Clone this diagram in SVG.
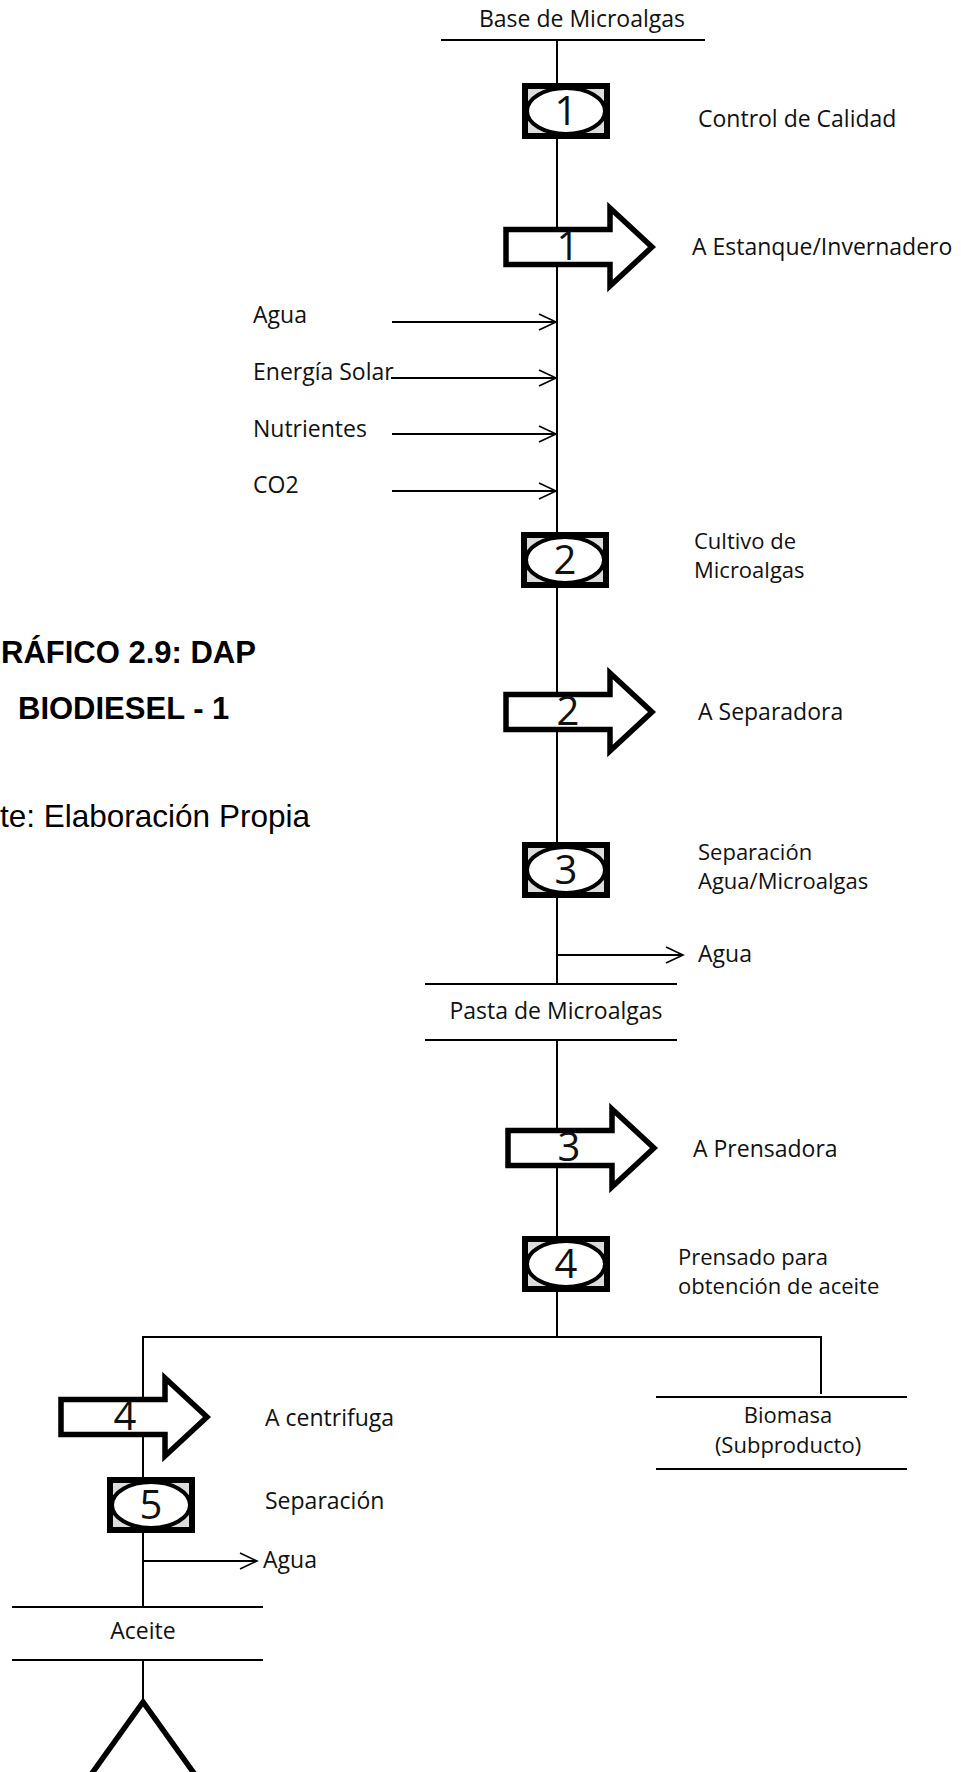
<svg xmlns="http://www.w3.org/2000/svg" xmlns:xlink="http://www.w3.org/1999/xlink" width="961" height="1772" viewBox="0 0 961 1772">
<style>
.lbl{font-family:"Open Sans","Liberation Sans",sans-serif;font-size:23px;fill:#111}
.two{font-size:22px}
.mid{text-anchor:middle}
.num{font-family:"Open Sans","Liberation Sans",sans-serif;font-size:40px;fill:#111;text-anchor:middle}
.ttl{font-family:"Liberation Sans",Arial,sans-serif;font-size:31px;fill:#000}
.b{font-weight:bold}
.ln{stroke:#000;stroke-width:2;fill:none}
.box{fill:#dcdcdc;stroke:#000;stroke-width:6}
.ell{fill:#fff;stroke:#000;stroke-width:4}
.arw{fill:#fff;stroke:#000;stroke-width:5.5;stroke-linejoin:miter}
.tri{fill:#fff;stroke:#000;stroke-width:5.5}
</style>
<defs>
<marker id="open" markerWidth="22" markerHeight="22" refX="18" refY="9" orient="auto" markerUnits="userSpaceOnUse">
<path d="M1,1 L18,9 L1,17" fill="none" stroke="#000" stroke-width="1.6"/>
</marker>
<path id="bigArrow" class="arw" d="M3,-17.5 H107 V-39 L149,0 L107,39 V17.5 H3 Z"/>
<g id="opBox">
<rect class="box" x="3" y="3" width="82" height="50"/>
<ellipse class="ell" cx="44" cy="28" rx="39" ry="23"/>
</g>
</defs>

<g id="connectors">
<line class="ln" x1="441" y1="40" x2="705" y2="40"/>
<line class="ln" x1="557" y1="40" x2="557" y2="984"/>
<line class="ln" x1="425" y1="984" x2="677" y2="984"/>
<line class="ln" x1="425" y1="1040" x2="677" y2="1040"/>
<line class="ln" x1="557" y1="1040" x2="557" y2="1337"/>
<polyline class="ln" points="143,1607 143,1337 821,1337 821,1394"/>
<line class="ln" x1="656" y1="1397" x2="907" y2="1397"/>
<line class="ln" x1="656" y1="1469" x2="907" y2="1469"/>
<line class="ln" x1="12" y1="1607" x2="263" y2="1607"/>
<line class="ln" x1="12" y1="1660" x2="263" y2="1660"/>
<line class="ln" x1="143" y1="1660" x2="143" y2="1702"/>
<line class="ln" x1="392" y1="322" x2="556" y2="322" marker-end="url(#open)"/>
<line class="ln" x1="391" y1="378" x2="556" y2="378" marker-end="url(#open)"/>
<line class="ln" x1="392" y1="434" x2="556" y2="434" marker-end="url(#open)"/>
<line class="ln" x1="392" y1="491" x2="556" y2="491" marker-end="url(#open)"/>
<line class="ln" x1="557" y1="955" x2="683" y2="955" marker-end="url(#open)"/>
<line class="ln" x1="143" y1="1561" x2="257" y2="1561" marker-end="url(#open)"/>
</g>

<g id="title">
<text class="ttl b" x="1" y="663">RÁFICO 2.9: DAP</text>
<text class="ttl b" x="18" y="719">BIODIESEL - 1</text>
<text class="ttl" x="0" y="827" style="font-size:31.5px">te: Elaboración Propia</text>
</g>

<g id="base-microalgas"><text class="lbl mid" x="582" y="27">Base de Microalgas</text></g>

<g id="op1">
<use xlink:href="#opBox" x="522" y="83"/>
<text class="num" x="566" y="125">1</text>
<text class="lbl" x="698" y="127">Control de Calidad</text>
</g>

<g id="tr1">
<use xlink:href="#bigArrow" transform="translate(503,247)"/>
<text class="num" x="568" y="260">1</text>
<text class="lbl" x="692" y="255">A Estanque/Invernadero</text>
</g>

<g id="inputs">
<text class="lbl" x="253" y="323">Agua</text>
<text class="lbl" x="253" y="380">Energía Solar</text>
<text class="lbl" x="253" y="437">Nutrientes</text>
<text class="lbl" x="253" y="493">CO2</text>
</g>

<g id="op2">
<use xlink:href="#opBox" x="521" y="532"/>
<text class="num" x="565" y="574">2</text>
<text class="lbl two" x="694" y="549">Cultivo de</text>
<text class="lbl two" x="694" y="578">Microalgas</text>
</g>

<g id="tr2">
<use xlink:href="#bigArrow" transform="translate(503,712)"/>
<text class="num" x="568" y="725">2</text>
<text class="lbl" x="698" y="720">A Separadora</text>
</g>

<g id="op3">
<use xlink:href="#opBox" x="522" y="842"/>
<text class="num" x="566" y="884">3</text>
<text class="lbl two" x="698" y="860">Separación</text>
<text class="lbl two" x="698" y="889">Agua/Microalgas</text>
</g>

<g id="out-agua-1"><text class="lbl" x="698" y="962">Agua</text></g>

<g id="pasta"><text class="lbl mid" x="556" y="1019">Pasta de Microalgas</text></g>

<g id="tr3">
<use xlink:href="#bigArrow" transform="translate(505,1148)"/>
<text class="num" x="569" y="1161">3</text>
<text class="lbl" x="693" y="1157">A Prensadora</text>
</g>

<g id="op4">
<use xlink:href="#opBox" x="522" y="1236"/>
<text class="num" x="566" y="1278">4</text>
<text class="lbl two" x="678" y="1265">Prensado para</text>
<text class="lbl two" x="678" y="1294">obtención de aceite</text>
</g>

<g id="biomasa">
<text class="lbl mid two" x="788" y="1423">Biomasa</text>
<text class="lbl mid two" x="788" y="1453">(Subproducto)</text>
</g>

<g id="tr4">
<use xlink:href="#bigArrow" transform="translate(58,1417)"/>
<text class="num" x="125" y="1430">4</text>
<text class="lbl" x="265" y="1426">A centrifuga</text>
</g>

<g id="op5">
<use xlink:href="#opBox" x="107" y="1477"/>
<text class="num" x="151" y="1519">5</text>
<text class="lbl" x="265" y="1509">Separación</text>
</g>

<g id="out-agua-2"><text class="lbl" x="263" y="1568">Agua</text></g>

<g id="aceite"><text class="lbl mid" x="143" y="1639">Aceite</text></g>

<g id="storage"><polygon class="tri" points="143,1702 80,1790 206,1790"/></g>
</svg>
